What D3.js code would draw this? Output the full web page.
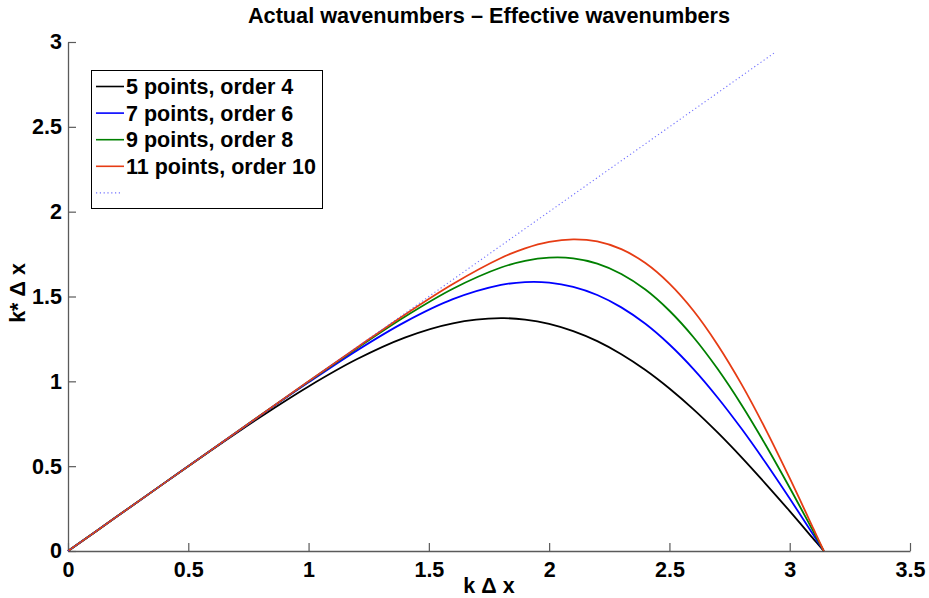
<!DOCTYPE html>
<html>
<head>
<meta charset="utf-8">
<script src="https://cdn.jsdelivr.net/npm/d3@7"></script>
<style>
  html, body { margin: 0; padding: 0; background: #fff; }
  svg { display: block; font-family: "Liberation Sans", Arial, Helvetica, sans-serif; font-weight: bold; }
</style>
</head>
<body>
<svg id="chart" width="929" height="598"></svg>
<script>
// Modified (effective) wavenumber k*Δx of central difference stencils vs. kΔx
const kdx     = [0, 0.2, 0.4, 0.6, 0.8, 1.0, 1.2, 1.4, 1.6, 1.8, 1.9, 2.0, 2.1, 2.2, 2.3, 2.4, 2.5, 2.6, 2.7, 2.8, 2.9, 3.0, 3.1, 3.1416];
const order4  = [0, 0.200, 0.400, 0.598, 0.790, 0.970, 1.130, 1.258, 1.342, 1.372, 1.364, 1.339, 1.296, 1.237, 1.160, 1.067, 0.958, 0.835, 0.699, 0.552, 0.396, 0.235, 0.069, 0];
const order6  = [0, 0.200, 0.400, 0.600, 0.799, 0.994, 1.181, 1.349, 1.484, 1.568, 1.585, 1.582, 1.557, 1.509, 1.436, 1.339, 1.217, 1.072, 0.905, 0.720, 0.520, 0.309, 0.091, 0];
const order8  = [0, 0.200, 0.400, 0.600, 0.800, 0.999, 1.194, 1.381, 1.546, 1.671, 1.710, 1.729, 1.725, 1.694, 1.633, 1.541, 1.416, 1.260, 1.074, 0.861, 0.625, 0.373, 0.110, 0];
const order10 = [0, 0.200, 0.400, 0.600, 0.800, 1.000, 1.198, 1.393, 1.574, 1.727, 1.784, 1.822, 1.837, 1.825, 1.779, 1.697, 1.576, 1.416, 1.216, 0.982, 0.717, 0.429, 0.127, 0];

// exact wavenumber reference line k*Δx = kΔx
const exactX = [0, 2.94];
const exactY = [0, 2.94];

const seriesNames  = ["5 points, order 4", "7 points, order 6", "9 points, order 8", "11 points, order 10"];
const seriesColors = ["#000000", "#0000ff", "#008000", "#e63c14"];

const xTicks = [0, 0.5, 1, 1.5, 2, 2.5, 3, 3.5];
const yTicks = [0, 0.5, 1, 1.5, 2, 2.5, 3];

const titleText = "Actual wavenumbers \u2013 Effective wavenumbers";
const xLabelText = "k \u0394 x";
const yLabelText = "k* \u0394 x";

const svg = d3.select("#chart");
const plot = { left: 68, right: 910, top: 42, bottom: 551 };

const x = d3.scaleLinear().domain([0, 3.5]).range([plot.left, plot.right]);
const y = d3.scaleLinear().domain([0, 3]).range([plot.bottom, plot.top]);

const axisColor = "#5a5a5a";
const fontSize = 21.5;
const fontFamily = "Liberation Sans, Arial, sans-serif";

// x axis (ticks point inward)
const gx = svg.append("g")
  .attr("transform", `translate(0,${plot.bottom})`)
  .call(d3.axisBottom(x).tickValues(xTicks).tickFormat(d => String(d))
    .tickSizeInner(-8).tickSizeOuter(0).tickPadding(11));
gx.select(".domain").attr("stroke", axisColor).attr("stroke-width", 1.3);
gx.selectAll(".tick line").attr("stroke", axisColor).attr("stroke-width", 1.2);
gx.selectAll(".tick text").attr("fill", "#000").attr("font-size", fontSize)
  .attr("font-family", fontFamily).attr("font-weight", "bold");

// y axis (ticks point inward)
const gy = svg.append("g")
  .attr("transform", `translate(${plot.left},0)`)
  .call(d3.axisLeft(y).tickValues(yTicks).tickFormat(d => String(d))
    .tickSizeInner(-8).tickSizeOuter(0).tickPadding(6));
gy.select(".domain").attr("stroke", axisColor).attr("stroke-width", 1.3);
gy.selectAll(".tick line").attr("stroke", axisColor).attr("stroke-width", 1.2);
gy.selectAll(".tick text").attr("fill", "#000").attr("font-size", fontSize)
  .attr("font-family", fontFamily).attr("font-weight", "bold");

// curves
const line = d3.line()
  .x(d => x(d[0]))
  .y(d => y(d[1]))
  .curve(d3.curveCatmullRom.alpha(0.5));

const allSeries = [order4, order6, order8, order10];
allSeries.forEach((vals, i) => {
  svg.append("path")
    .datum(kdx.map((k, j) => [k, vals[j]]))
    .attr("d", line)
    .attr("fill", "none")
    .attr("stroke", seriesColors[i])
    .attr("stroke-width", 1.8);
});

// exact reference (dotted)
svg.append("path")
  .datum(exactX.map((v, j) => [v, exactY[j]]))
  .attr("d", d3.line().x(d => x(d[0])).y(d => y(d[1])))
  .attr("fill", "none")
  .attr("stroke", "#4040ff")
  .attr("stroke-opacity", 0.75)
  .attr("stroke-width", 1.1)
  .attr("stroke-dasharray", "1.2,2.6");

// title and axis labels
svg.append("text")
  .attr("x", 489).attr("y", 22.5)
  .attr("text-anchor", "middle")
  .attr("font-size", 21.7)
  .text(titleText);

svg.append("text")
  .attr("x", 489).attr("y", 593)
  .attr("text-anchor", "middle")
  .attr("font-size", fontSize)
  .text(xLabelText);

svg.append("text")
  .attr("transform", `translate(25,${293}) rotate(-90)`)
  .attr("text-anchor", "middle")
  .attr("font-size", fontSize)
  .text(yLabelText);

// legend
const legend = svg.append("g");
legend.append("rect")
  .attr("x", 91.5).attr("y", 70.5)
  .attr("width", 231).attr("height", 138)
  .attr("fill", "#fff")
  .attr("stroke", "#000")
  .attr("stroke-width", 1);

const rowY0 = 86.5, rowStep = 26.6;
seriesNames.forEach((name, i) => {
  const cy = rowY0 + i * rowStep;
  legend.append("line")
    .attr("x1", 96).attr("x2", 124)
    .attr("y1", cy).attr("y2", cy)
    .attr("stroke", seriesColors[i]).attr("stroke-width", 1.6);
  legend.append("text")
    .attr("x", 126).attr("y", cy + 7.5)
    .attr("font-size", fontSize)
    .text(name);
});
legend.append("line")
  .attr("x1", 96).attr("x2", 122)
  .attr("y1", rowY0 + 4 * rowStep).attr("y2", rowY0 + 4 * rowStep)
  .attr("stroke", "#4040ff").attr("stroke-opacity", 0.75)
  .attr("stroke-width", 1.1).attr("stroke-dasharray", "1.2,2.6");
</script>
</body>
</html>
